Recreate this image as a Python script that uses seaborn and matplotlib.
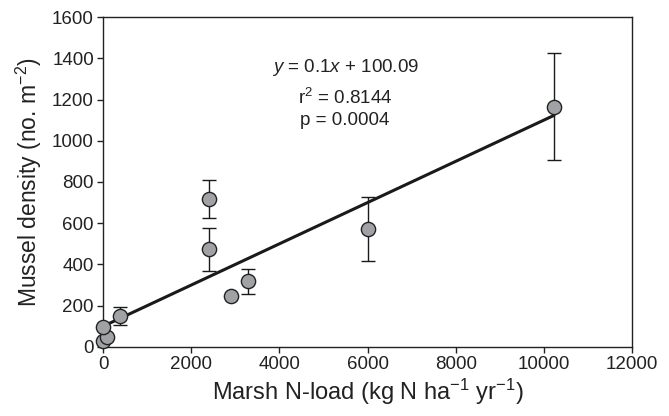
import numpy as np
import pandas as pd
import matplotlib
matplotlib.use("Agg")
import matplotlib.pyplot as plt
import seaborn as sns

# Data
n_load = [0, 85, 0, 385, 2400, 2400, 2900, 3280, 6000, 10230]
density = [30, 48, 95, 150, 718, 473, 245, 318, 574, 1166]
err = [0, 0, 0, 45, 93, 105, 0, 62, 155, 258]
slope = 0.1
intercept = 100.09
eq_lines = ["$y$ = 0.1$x$ + 100.09", "r$^2$ = 0.8144", "p = 0.0004"]
xticks = [0, 2000, 4000, 6000, 8000, 10000, 12000]
xticklabels = ["0", "2000", "4000", "6000", "8000", "10000", "12000"]
yticks = [0, 200, 400, 600, 800, 1000, 1200, 1400, 1600]

sns.set_style("ticks")
plt.rcParams['font.family'] = ['Liberation Sans', 'DejaVu Sans']
plt.rcParams['mathtext.fontset'] = 'custom'
plt.rcParams['mathtext.rm'] = 'Liberation Sans'
plt.rcParams['mathtext.it'] = 'Liberation Sans:italic'

df = pd.DataFrame({"x": n_load, "y": density, "e": err})

fig = plt.figure(figsize=(6.69, 4.16), dpi=100)
ax = fig.add_axes([0.154, 0.166, 0.7907, 0.793])

# regression line
xl = np.array([min(n_load), max(n_load)])
fit = pd.DataFrame({"x": xl, "y": slope * xl + intercept})
sns.lineplot(data=fit, x="x", y="y", ax=ax, color="#1a1a1a", lw=2.2, zorder=2)

# error bars
eb = df[df.e > 0]
ax.errorbar(eb.x, eb.y, yerr=eb.e, fmt="none", ecolor="#1a1a1a",
            elinewidth=1.0, capsize=5, capthick=1.0, zorder=1)

sns.scatterplot(data=df, x="x", y="y", ax=ax, s=105, color="#a0a2a5",
                edgecolor="#222222", linewidth=1.0, zorder=3, clip_on=False)

ax.set_xlim(0, 12000)
ax.set_ylim(0, 1600)
ax.set_xticks(xticks)
ax.set_xticklabels(xticklabels)
ax.set_yticks(yticks)
ax.tick_params(axis="both", labelsize=13.5, length=4.5, width=1, color="#222222",
               labelcolor="#222222", pad=2)
for s in ax.spines.values():
    s.set_linewidth(1.0)
    s.set_color("#222222")

ax.set_xlabel("Marsh N-load (kg N ha$^{-1}$ yr$^{-1}$)", fontsize=17, color="#222222", labelpad=3)
ax.set_ylabel("Mussel density (no. m$^{-2}$)", fontsize=16.5, color="#222222", labelpad=6)

ys = [1353, 1207, 1100]
for t, yy in zip(eq_lines, ys):
    ax.text(5490, yy, t, ha="center", va="center", fontsize=13.5, color="#222222")

fig.savefig("out.png", dpi=100)
